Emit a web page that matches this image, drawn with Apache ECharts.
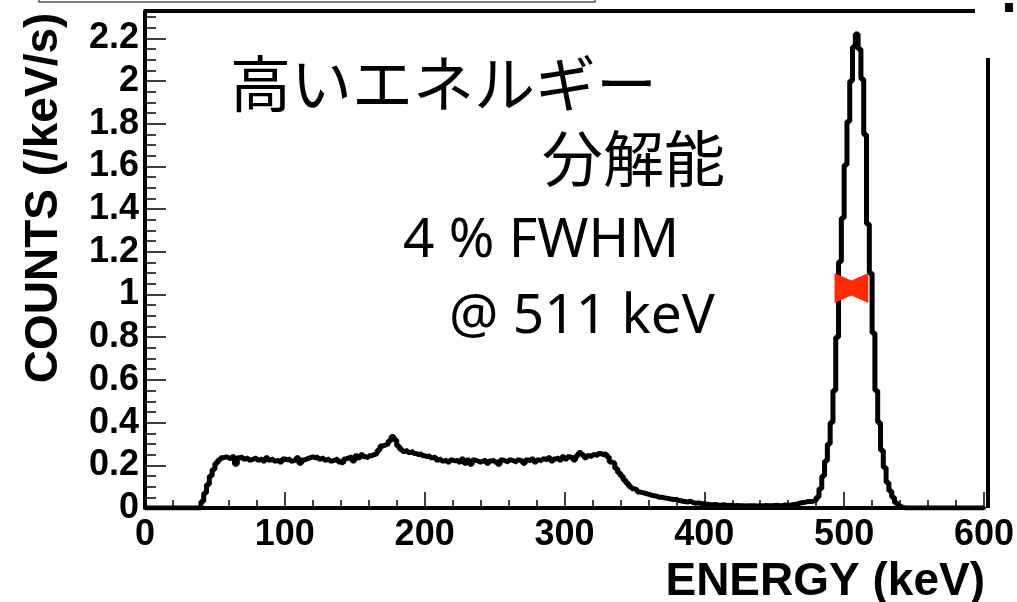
<!DOCTYPE html>
<html>
<head>
<meta charset="utf-8">
<script src="https://cdn.jsdelivr.net/npm/echarts@6/dist/echarts.min.js"></script>
<style>html,body{margin:0;padding:0;background:#fff}#c{width:1017px;height:602px}</style>
</head>
<body>
<div id="c"></div>
<script>
// ---- data (histogram, 2 keV bins starting at 0 keV) ----
const binWidth = 2; // keV
const xTicks = [0, 100, 200, 300, 400, 500, 600];
const yTicks = [0, 0.2, 0.4, 0.6, 0.8, 1, 1.2, 1.4, 1.6, 1.8, 2, 2.2];
// 0 - 158 keV : threshold and flat Compton region
const countsLow = [
  0,0,0,0,0,0,0,0,0,0, 0,0,0,0,0,0,0,0,0,0,
  0.03,0.07,0.11,0.15,0.18,0.21,0.225,0.235,0.24,0.235,
  0.23,0.24,0.205,0.235,0.24,0.23,0.235,0.225,0.23,0.235,
  0.225,0.23,0.22,0.235,0.225,0.23,0.22,0.225,0.215,0.23,
  0.225,0.23,0.22,0.225,0.235,0.21,0.225,0.23,0.235,0.24,
  0.235,0.24,0.23,0.235,0.225,0.23,0.22,0.225,0.23,0.215,
  0.21,0.23,0.235,0.24,0.22,0.245,0.235,0.25,0.24,0.235
];
// 160 - 338 keV : backscatter bump and Compton plateau/edge
const countsMid = [
  0.245,0.25,0.255,0.27,0.29,0.295,0.30,0.315,0.335,0.32,
  0.29,0.275,0.265,0.27,0.26,0.265,0.255,0.25,0.255,0.245,
  0.24,0.245,0.235,0.24,0.225,0.23,0.22,0.225,0.215,0.225,
  0.22,0.225,0.215,0.23,0.21,0.225,0.205,0.225,0.22,0.215,
  0.22,0.225,0.21,0.22,0.225,0.215,0.205,0.225,0.22,0.215,
  0.225,0.22,0.215,0.225,0.22,0.21,0.225,0.22,0.23,0.215,
  0.225,0.22,0.23,0.225,0.235,0.22,0.23,0.235,0.225,0.24,
  0.23,0.24,0.235,0.225,0.245,0.26,0.25,0.235,0.245,0.24,
  0.25,0.245,0.255,0.25,0.255,0.24,0.215,0.21,0.185,0.165
];
// 340 - 478 keV : valley
const countsValley = [
  0.15,0.13,0.115,0.1,0.09,0.085,0.075,0.072,0.068,0.065,
  0.06,0.058,0.055,0.05,0.05,0.047,0.045,0.042,0.04,0.04,
  0.035,0.033,0.03,0.028,0.032,0.025,0.022,0.024,0.02,0.02,
  0.018,0.016,0.015,0.017,0.014,0.013,0.015,0.012,0.013,0.012,
  0.011,0.012,0.01,0.011,0.009,0.01,0.011,0.01,0.009,0.01,
  0.01,0.012,0.011,0.01,0.012,0.013,0.011,0.012,0.014,0.013,
  0.014,0.016,0.018,0.022,0.025,0.027,0.03,0.03,0.032,0.035
];
// 480 - 598 keV : 511 keV photopeak
const countsPeak = [
  0.05,0.09,0.15,0.22,0.3,0.4,0.55,0.8,1.154,1.358,
  1.607,1.81,2.0,2.16,2.22,2.15,2.01,1.75,1.33,1.1,
  0.82,0.55,0.4,0.27,0.19,0.12,0.08,0.05,0.025,0.01,
  0.003,0,0,0,0,0,0,0,0,0,
  0,0,0,0,0,0,0,0,0,0,
  0,0,0,0,0,0,0,0,0,0
];
// FWHM marker (keV range at half maximum)
const fwhmLow = 493.1, fwhmHigh = 517.3, halfMax = 1.03;

const counts = countsLow.concat(countsMid, countsValley, countsPeak);
const histPoints = counts.map((v, i) => [i * binWidth, v]);
histPoints.push([counts.length * binWidth, counts[counts.length - 1]]);

const labelFont = 'Liberation Sans, Arial, sans-serif';
const chart = echarts.init(document.getElementById('c'));
const yMax = 2.328;
chart.setOption({
  animation: false,
  grid: {left: 145, right: 29, top: 11, bottom: 94},
  xAxis: [
    {type: 'value', min: xTicks[0], max: xTicks[xTicks.length - 1], interval: 100,
     axisLine: {show: true, lineStyle: {color: '#000', width: 4}},
     axisTick: {show: true, inside: true, length: 16, lineStyle: {color: '#000', width: 1.5}},
     axisLabel: {fontSize: 36, fontWeight: 'bold', fontFamily: labelFont, color: '#000', margin: 9},
     splitLine: {show: false}},
    {type: 'value', min: 0, max: 600, interval: 20, position: 'bottom',
     axisLine: {show: false}, axisTick: {show: true, inside: true, length: 8, lineStyle: {color: '#000', width: 1.5}},
     axisLabel: {show: false}, splitLine: {show: false}}
  ],
  yAxis: [
    {type: 'value', min: yTicks[0], max: yMax, interval: 0.2,
     axisLine: {show: true, lineStyle: {color: '#000', width: 4}},
     axisTick: {show: true, inside: true, length: 21, lineStyle: {color: '#000', width: 1.5}},
     axisLabel: {fontSize: 36, fontWeight: 'bold', fontFamily: labelFont, color: '#000', margin: 6, showMaxLabel: false,
                 padding: [10, 0, 0, 0]},
     splitLine: {show: false}},
    {type: 'value', min: 0, max: yMax, interval: 0.05, position: 'left',
     axisLine: {show: false}, axisTick: {show: true, inside: true, length: 11, lineStyle: {color: '#000', width: 1.5}},
     axisLabel: {show: false}, splitLine: {show: false}}
  ],
  series: [
    {type: 'line', name: 'COUNTS', data: histPoints, step: 'end', xAxisIndex: 0, yAxisIndex: 0,
     showSymbol: false, symbol: 'none', lineStyle: {color: '#000', width: 5}, z: 3},
    {type: 'custom', name: 'FWHM', xAxisIndex: 0, yAxisIndex: 0, z: 4,
     data: [[fwhmLow, fwhmHigh, halfMax]],
     encode: {x: [0, 1], y: 2},
     renderItem: function (params, api) {
       const p1 = api.coord([api.value(0), api.value(2)]);
       const p2 = api.coord([api.value(1), api.value(2)]);
       const cx = (p1[0] + p2[0]) / 2, h = 15, hc = 7.5;
       return {type: 'polygon', shape: {points: [
         [p1[0], p1[1] - h], [cx, p1[1] - hc], [p2[0], p2[1] - h],
         [p2[0], p2[1] + h], [cx, p1[1] + hc], [p1[0], p1[1] + h]]},
         style: {fill: '#ff2a05'}};
     }}
  ],
  graphic: [
    // frame pieces
    {type: 'line', shape: {x1: 145, y1: 11, x2: 975, y2: 11}, style: {stroke: '#000', lineWidth: 4}, z: 10},
    {type: 'line', shape: {x1: 988, y1: 58, x2: 988, y2: 508}, style: {stroke: '#000', lineWidth: 4}, z: 10},
    {type: 'rect', shape: {x: 1005, y: 3, width: 8, height: 9}, style: {fill: '#000'}, z: 10},
    {type: 'polyline', shape: {points: [[39, 0], [39, 2], [595, 2], [595, 0]]}, style: {stroke: '#555', lineWidth: 1.5, fill: null}, z: 10},
    // axis titles
    {type: 'text', x: 985, y: 582, z: 10,
     style: {text: 'ENERGY (keV)', font: 'bold 46px Liberation Sans, Arial, sans-serif', fill: '#000', align: 'right', verticalAlign: 'middle'}},
    {type: 'text', x: 44, y: 198, rotation: Math.PI / 2, z: 10,
     style: {text: 'COUNTS (/keV/s)', font: 'bold 46px Liberation Sans, Arial, sans-serif', fill: '#000', align: 'center', verticalAlign: 'middle'}},
    // annotations
    {type: 'text', x: 230, y: 84, z: 10,
     style: {text: '高いエネルギー', font: '61px "Noto Sans CJK JP", sans-serif', fill: '#000', align: 'left', verticalAlign: 'middle'}},
    {type: 'text', x: 542, y: 159, z: 10,
     style: {text: '分解能', font: '61px "Noto Sans CJK JP", sans-serif', fill: '#000', align: 'left', verticalAlign: 'middle'}},
    {type: 'text', x: 403, y: 241, z: 10,
     style: {text: '4 % FWHM', font: '55px "Noto Sans", sans-serif', fill: '#000', align: 'left', verticalAlign: 'middle'}},
    {type: 'text', x: 449, y: 317, z: 10,
     style: {text: '@ 511 keV', font: '55px "Noto Sans", sans-serif', fill: '#000', align: 'left', verticalAlign: 'middle'}}
  ]
});
</script>
</body>
</html>
